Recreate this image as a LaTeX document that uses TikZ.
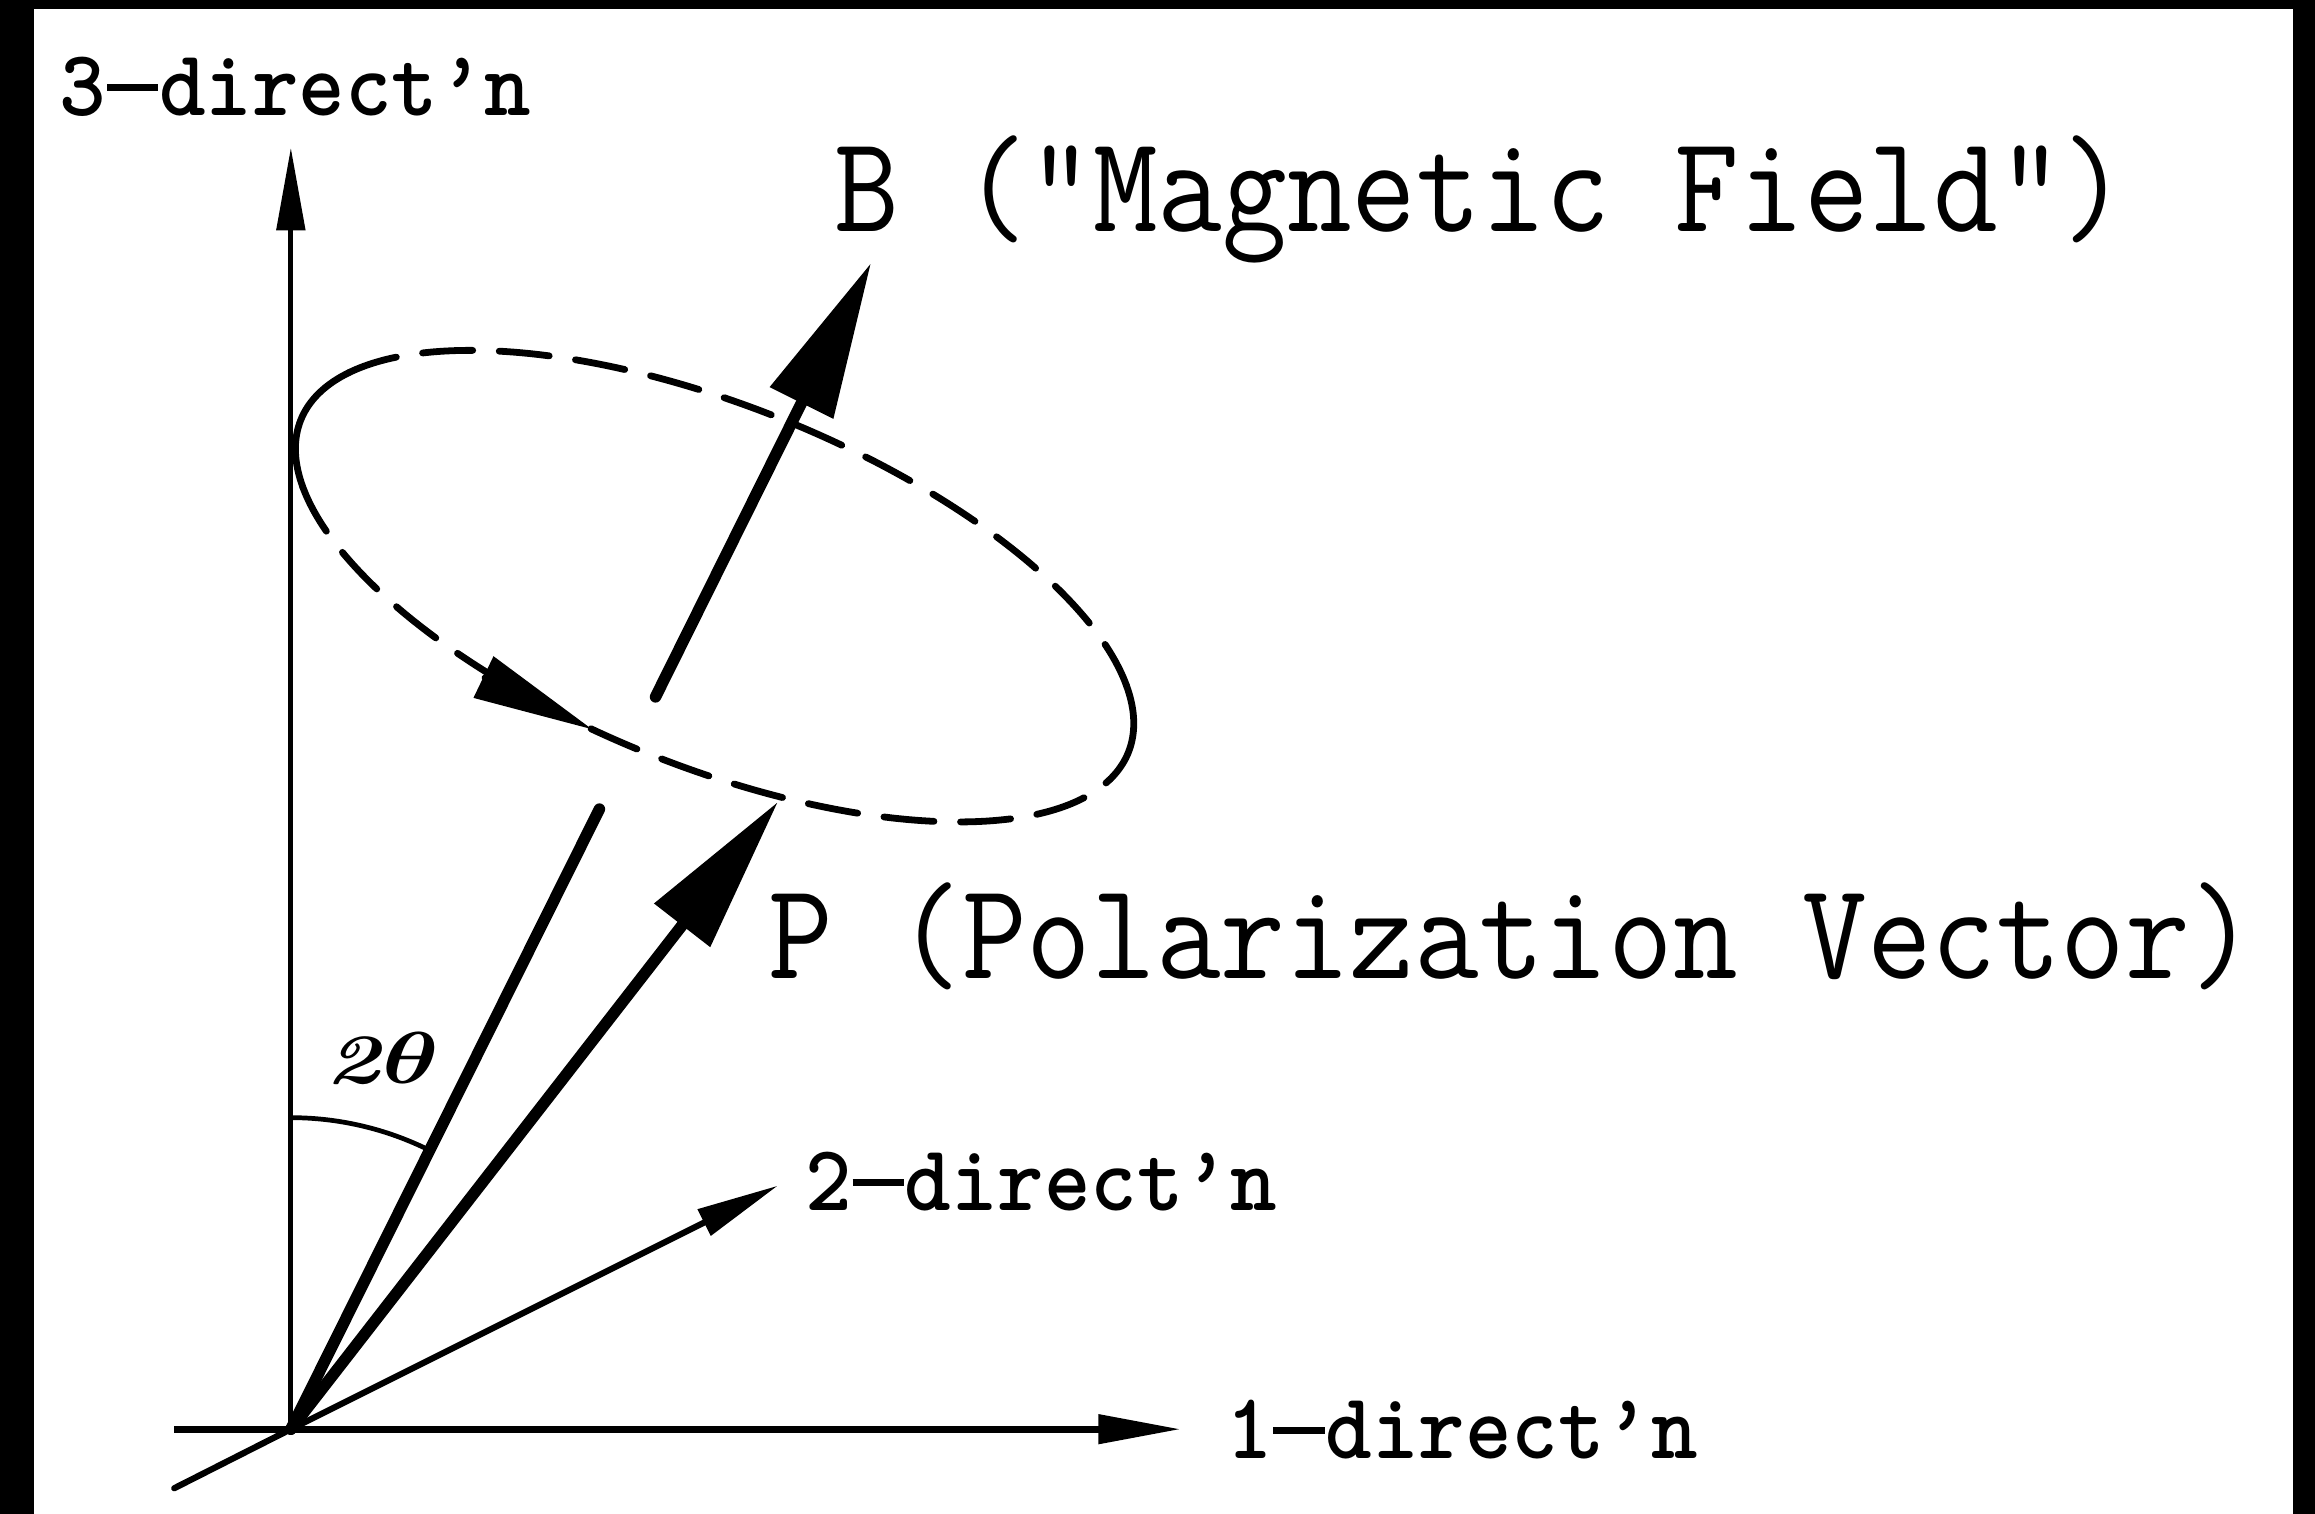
\documentclass[tikz,border=0pt]{standalone}
\usepackage{fontspec}
\usetikzlibrary{arrows.meta}
\newcommand{\longdash}{\makebox[0.6em]{\rule[0.26em]{0.58em}{0.075em}}}
\begin{document}
\begin{tikzpicture}[x=0.5pt,y=-0.5pt,
  declare function={ex(\t)=484+302*cos(\t)*0.928-122*sin(\t)*0.373;
                    ey(\t)=397+302*cos(\t)*0.373+122*sin(\t)*0.928;},
  axline/.style={line width=1.7pt},
  axhead/.style={-{Triangle[length=28pt,width=9.5pt]}},
  vecline/.style={line width=3.9pt,line cap=round},
  vechead/.style={-{Triangle[length=53pt,width=23pt]}},
  ell/.style={line width=2.3pt,line cap=round},
  elldash/.style={ell,dash pattern=on 17pt off 9pt},
  biglabel/.style={inner sep=0pt,anchor=base west,font=\ttfamily\fontsize{42.5}{50}\selectfont},
  axlabel/.style={inner sep=0pt,anchor=base west,font=\ttfamily\bfseries\fontsize{30}{36}\selectfont},
]
\useasboundingbox (0,0) rectangle (1568,1025);
\fill[white] (-60,-60) rectangle (1700,1100);

% coordinates
\coordinate (O) at (197,968);
\coordinate (A3) at (197,100);
\coordinate (A1s) at (118,968);
\coordinate (A1) at (800,968);
\coordinate (A2s) at (118,1008);
\coordinate (A2) at (527,803);
\coordinate (Bg1) at (406,548);
\coordinate (Bg2) at (444,472);
\coordinate (Bt) at (590,178);
\coordinate (Pt) at (527,543);
\coordinate (Ea) at ({ex(101)},{ey(101)});
\coordinate (Eb) at ({ex(97.7)},{ey(97.7)});

% axes
\draw[axline,axhead] (O) -- (A3);
\draw[line width=2.5pt,axhead] (A1s) -- (A1);
\draw[line width=2.1pt,line cap=round] (A2s) -- (O);
\draw[line width=2.1pt,axhead] (O) -- (A2);

% ellipse
\draw[ell] plot[domain=160:200,samples=20,smooth,variable=\t] ({ex(\t)},{ey(\t)});
\draw[elldash] plot[domain=200:340,samples=70,smooth,variable=\t] ({ex(\t)},{ey(\t)});
\draw[ell] plot[domain=340:370,samples=20,smooth,variable=\t] ({ex(\t)},{ey(\t)});
\draw[elldash] plot[domain=160:10,samples=70,smooth,variable=\t] ({ex(\t)},{ey(\t)});
\draw[ell,-{Triangle[length=41pt,width=15pt]}] (Ea) -- (Eb);

% angle arc
\draw[line width=1.6pt] (197,757) arc[start angle=-90,end angle=-63.55,radius=211];

% vectors
\draw[vecline] (O) -- (Bg1);
\draw[vecline,vechead] (Bg2) -- (Bt);
\draw[vecline,vechead] (O) -- (Pt);

% labels
\node[axlabel] (L3) at (40,78) {\scalebox{1}[1.06]{3\longdash direct’n}};
\node[axlabel] (L2) at (545,820) {\scalebox{1}[1.06]{2\longdash direct’n}};
\node[axlabel] (L1) at (830,988) {\scalebox{1}[1.06]{1\longdash direct’n}};
\node[biglabel] (LB) at (565,157) {\scalebox{1}[1.1]{B ("Magnetic Field")}};
\node[biglabel] (LP) at (520,663) {\scalebox{1}[1.1]{P (Polarization Vector)}};
\node[inner sep=0pt,anchor=base west,font=\bfseries\boldmath\fontsize{24}{28}\selectfont] (Lth) at (220,734) {\scalebox{1.3}[1]{\textit{2}$\theta$}};

% frame (drawn last)
\fill[white] (23,1014) rectangle (1553,1100);
\fill[black] (-60,-60) rectangle (23,1100);
\fill[black] (-60,-60) rectangle (1700,6);
\fill[black] (1553,-60) rectangle (1700,1100);
\end{tikzpicture}
\end{document}
